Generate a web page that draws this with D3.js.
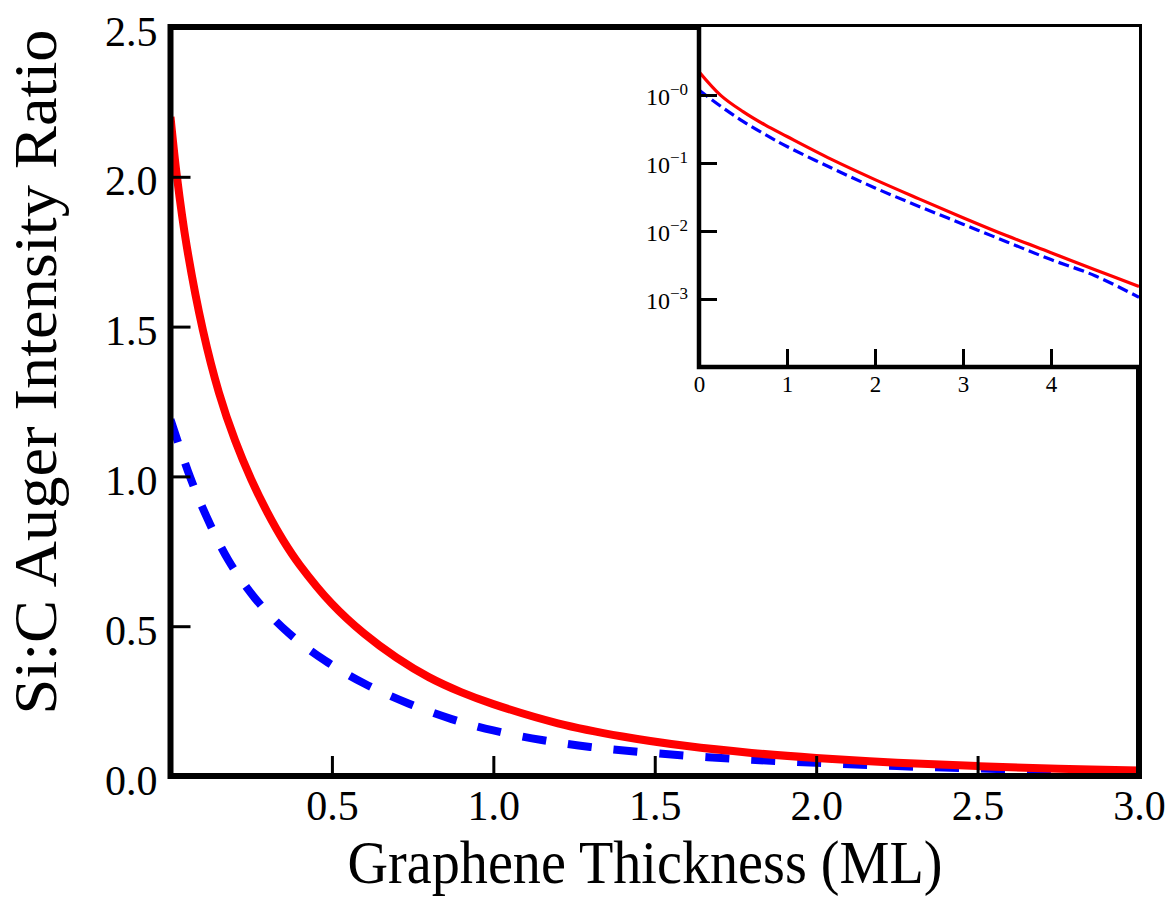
<!DOCTYPE html>
<html>
<head>
	<meta charset="utf-8">
	<title>Si:C Auger ratio</title>
	<style>
		body{ margin:0; background:white; }
		svg{ display:block; }
		.lbl{ font-family:"Liberation Serif", "DejaVu Serif", serif; fill:black; }
	</style>
	<script src="https://cdn.jsdelivr.net/npm/d3@7"></script>
</head>
<body>
  <svg width="1169" height="903"></svg>
  <script>
    // main plot: thickness (ML) vs ratio
    var redX  = [0, 0.02, 0.05, 0.1, 0.15, 0.2, 0.25, 0.3, 0.35, 0.4, 0.5, 0.6, 0.7, 0.8, 0.9, 1.0, 1.2, 1.4, 1.6, 1.8, 2.0, 2.25, 2.5, 2.75, 3.0];
    var redY  = [2.2, 2.0, 1.77, 1.49, 1.28, 1.12, 0.99, 0.88, 0.785, 0.705, 0.575, 0.475, 0.395, 0.33, 0.28, 0.24, 0.176, 0.132, 0.1, 0.077, 0.06, 0.044, 0.033, 0.024, 0.018];
    var blueX = [0, 0.06, 0.112, 0.179, 0.262, 0.365, 0.479, 0.603, 0.737, 0.871, 1.0, 1.15, 1.3, 1.5, 1.75, 2.0, 2.25, 2.5, 2.75, 3.0];
    var blueY = [1.19, 1.0, 0.865, 0.721, 0.593, 0.478, 0.385, 0.307, 0.242, 0.19, 0.152, 0.12, 0.097, 0.076, 0.057, 0.044, 0.033, 0.025, 0.019, 0.015];

    // inset (log scale)
    var insX     = [0, 0.25, 0.5, 0.75, 1, 1.5, 2, 2.5, 3, 3.5, 4, 4.5, 5];
    var insRed   = [2.2, 0.98, 0.57, 0.363, 0.245, 0.114, 0.057, 0.0297, 0.0157, 0.0085, 0.0048, 0.0027, 0.00153];
    var insBlue  = [1.18, 0.68, 0.41, 0.263, 0.175, 0.085, 0.043, 0.023, 0.0126, 0.0069, 0.0038, 0.0022, 0.00106];

    var xTicks = [0.5, 1.0, 1.5, 2.0, 2.5, 3.0];
    var yTicks = [0.0, 0.5, 1.0, 1.5, 2.0, 2.5];
    var insXTicks = [0, 1, 2, 3, 4];
    var insYTicks = [1, 0.1, 0.01, 0.001];
    var insYExp = ["\u22120", "\u22121", "\u22122", "\u22123"];

    var svg = d3.select("svg");
    var L = 170.5, R = 1139, T = 27, B = 776;

    var x = d3.scaleLinear().domain([0, 3]).range([L, R]);
    var y = d3.scaleLinear().domain([0, 2.5]).range([B, T]);

    svg.append("clipPath").attr("id", "clipMain")
       .append("rect").attr("x", L).attr("y", T).attr("width", R - L).attr("height", B - T);

    var line = d3.line().curve(d3.curveCatmullRom.alpha(0.5));

    var g = svg.append("g");
    g.append("path")
     .attr("clip-path", "url(#clipMain)")
     .attr("d", line(blueX.map(function(d, i){ return [x(d), y(blueY[i])]; })))
     .attr("fill", "none").attr("stroke", "#0000ff").attr("stroke-width", 8)
     .attr("stroke-dasharray", "24,22");
    g.append("path")
     .attr("clip-path", "url(#clipMain)")
     .attr("d", line(redX.map(function(d, i){ return [x(d), y(redY[i])]; })))
     .attr("fill", "none").attr("stroke", "#ff0000").attr("stroke-width", 8);

    // axes, ticks pointing inward
    var ax = g.append("g").attr("transform", "translate(0," + B + ")")
      .call(d3.axisBottom(x).tickValues(xTicks).tickSize(-20).tickPadding(14).tickFormat(d3.format(".1f")));
    var ay = g.append("g").attr("transform", "translate(" + L + ",0)")
      .call(d3.axisLeft(y).tickValues(yTicks).tickSize(-20).tickPadding(13).tickFormat(d3.format(".1f")));
    [ax, ay].forEach(function(a){
      a.select(".domain").remove();
      a.selectAll("line").attr("stroke", "black").attr("stroke-width", 3);
      a.selectAll("text").attr("class", "lbl").style("font-size", "42px").attr("fill", "black");
    });
    ax.selectAll("text").attr("dy", "0.72em");
    ay.selectAll("text").attr("dy", "0.43em");

    g.append("rect").attr("x", L).attr("y", T).attr("width", R - L).attr("height", B - T)
     .attr("fill", "none").attr("stroke", "black").attr("stroke-width", 6);

    svg.append("text").attr("class", "lbl")
       .attr("x", 645).attr("y", 883).attr("text-anchor", "middle")
       .style("font-size", "62px")
       .attr("textLength", 595).attr("lengthAdjust", "spacingAndGlyphs")
       .text("Graphene Thickness (ML)");
    svg.append("text").attr("class", "lbl")
       .attr("transform", "translate(56,372) rotate(-90)").attr("text-anchor", "middle")
       .style("font-size", "62px")
       .attr("textLength", 685).attr("lengthAdjust", "spacingAndGlyphs")
       .text("Si:C Auger Intensity Ratio");

    // inset
    var iL = 699, iR = R, iT = T, iB = 367;
    var ix = d3.scaleLinear().domain([0, 5]).range([iL, iR]);
    var iy = d3.scaleLog().domain([1e-4, 10]).range([iB, iT]);

    var gi = svg.append("g");
    gi.append("rect").attr("x", iL).attr("y", iT).attr("width", iR - iL).attr("height", iB - iT).attr("fill", "white");
    svg.append("clipPath").attr("id", "clipIns")
       .append("rect").attr("x", iL).attr("y", iT).attr("width", iR - iL).attr("height", iB - iT);

    gi.append("path")
      .attr("clip-path", "url(#clipIns)")
      .attr("d", line(insX.map(function(d, i){ return [ix(d), iy(insBlue[i])]; })))
      .attr("fill", "none").attr("stroke", "#0000ff").attr("stroke-width", 3.2)
      .attr("stroke-dasharray", "11,5");
    gi.append("path")
      .attr("clip-path", "url(#clipIns)")
      .attr("d", line(insX.map(function(d, i){ return [ix(d), iy(insRed[i])]; })))
      .attr("fill", "none").attr("stroke", "#ff0000").attr("stroke-width", 3.2);

    var iax = gi.append("g").attr("transform", "translate(0," + iB + ")")
      .call(d3.axisBottom(ix).tickValues(insXTicks).tickSize(-18).tickPadding(9).tickFormat(d3.format("d")));
    var iay = gi.append("g").attr("transform", "translate(" + iL + ",0)")
      .call(d3.axisLeft(iy).tickValues(insYTicks).tickSize(-18).tickFormat(""));
    [iax, iay].forEach(function(a){
      a.select(".domain").remove();
      a.selectAll("line").attr("stroke", "black").attr("stroke-width", 3);
    });
    iax.selectAll("text").attr("class", "lbl").style("font-size", "23px").attr("fill", "black").attr("dy", "0.71em");

    var yl = gi.selectAll(".ylab").data(insYTicks).enter().append("text")
      .attr("class", "lbl ylab")
      .attr("x", iL - 11).attr("y", function(d){ return iy(d) + 10; })
      .attr("text-anchor", "end").style("font-size", "24px");
    yl.append("tspan").text("10");
    yl.append("tspan").attr("dy", -10).style("font-size", "17px").text(function(d, i){ return insYExp[i]; });

    gi.append("path")
      .attr("d", "M" + iL + "," + iT + "V" + iB + "H" + iR)
      .attr("fill", "none").attr("stroke", "black").attr("stroke-width", 4.5);
  </script>
</body>
</html>
